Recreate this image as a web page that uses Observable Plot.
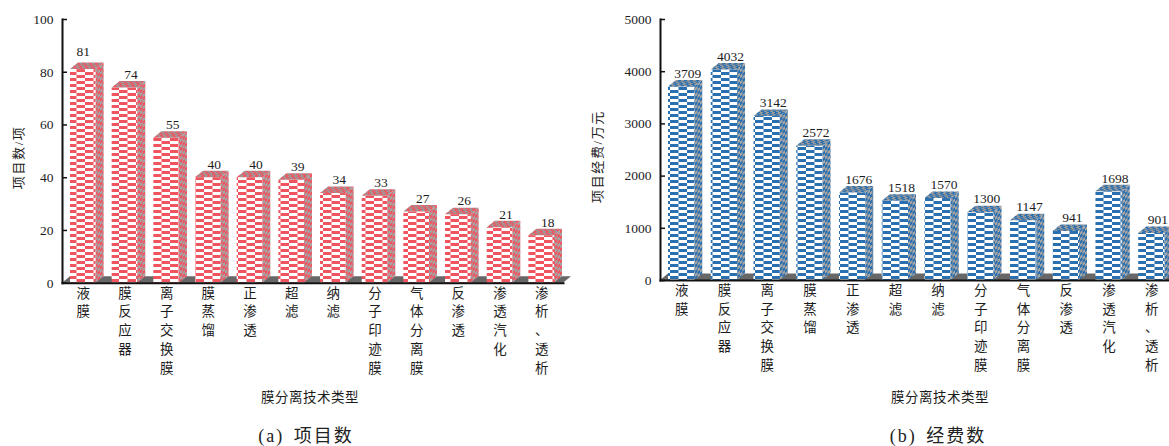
<!DOCTYPE html>
<html>
<head>
<meta charset="utf-8">
<script src="https://cdn.jsdelivr.net/npm/d3@7"></script>
<script src="https://cdn.jsdelivr.net/npm/@observablehq/plot@0.6"></script>
<style>
html,body{margin:0;padding:0;background:#fff;width:1169px;height:446px;overflow:hidden}
.panel{position:absolute;top:0;height:420px}
.panel svg{display:block;overflow:hidden}
.cap{position:absolute;top:421px;height:25px;line-height:25px;text-align:center;color:#222;
  font:18px "Liberation Serif","Noto Sans CJK SC",serif;letter-spacing:2px;word-spacing:3px;white-space:pre}
</style>
</head>
<body>
<div class="panel" id="a" style="left:0;width:585px"></div>
<div class="panel" id="b" style="left:585px;width:584px"></div>
<div class="cap" style="left:153px;width:306px">(a) 项目数</div>
<div class="cap" style="left:785px;width:306px">(b) 经费数</div>
<script>
const categories = ["液膜","膜反应器","离子交换膜","膜蒸馏","正渗透","超滤","纳滤","分子印迹膜","气体分离膜","反渗透","渗透汽化","渗析、透析"];
const projectCounts = [81,74,55,40,40,39,34,33,27,26,21,18];
const fundingValues = [3709,4032,3142,2572,1676,1518,1570,1300,1147,941,1698,901];
const countTicks = [0,20,40,60,80,100];
const fundingTicks = [0,1000,2000,3000,4000,5000];

const FONT = '"Liberation Serif","Noto Sans CJK SC",serif';
const SVGNS = "http://www.w3.org/2000/svg";
const DX = 8, DY = 6.5;

function el(tag, attrs, parent){
  const n = document.createElementNS(SVGNS, tag);
  for (const k in attrs) n.setAttribute(k, attrs[k]);
  if (parent) parent.appendChild(n);
  return n;
}

function defsMark(key, color){
  return () => {
    const defs = el("defs", {});
    const front = el("pattern", {id:`front-${key}`, patternUnits:"userSpaceOnUse", width:17, height:6}, defs);
    el("rect", {width:17, height:6, fill:"#fff"}, front);
    el("rect", {x:0, y:0, width:17, height:3.2, fill:color, "fill-opacity":0}, front);
    el("rect", {x:0, y:0, width:8.5, height:3, fill:color}, front);
    el("rect", {x:8.5, y:3, width:8.5, height:3, fill:color}, front);
    const side = el("pattern", {id:`side-${key}`, patternUnits:"userSpaceOnUse", width:5, height:6, patternTransform:"skewY(-39)"}, defs);
    el("rect", {width:5, height:6, fill:"#a5a5a5"}, side);
    el("rect", {x:0, y:0, width:2.5, height:3, fill:color}, side);
    el("rect", {x:2.5, y:3, width:2.5, height:3, fill:color}, side);
    const top = el("pattern", {id:`top-${key}`, patternUnits:"userSpaceOnUse", width:6, height:3.4, patternTransform:"skewX(-50)"}, defs);
    el("rect", {width:6, height:3.4, fill:"#9a9a9a"}, top);
    el("rect", {x:0, y:0, width:3, height:1.7, fill:color}, top);
    el("rect", {x:3, y:1.7, width:3, height:1.7, fill:color}, top);
    return defs;
  };
}

// Dark floor behind the bars, one depth unit deep
function floorMark(floorEnd){
  return (index, scales, values, dim) => {
    const y0 = scales.y(0), x0 = dim.marginLeft;
    return el("polygon", {
      fill:"#676767",
      points:`${x0},${y0} ${floorEnd},${y0} ${floorEnd + DX},${y0 - DY} ${x0 + DX},${y0 - DY}`
    });
  };
}

// Side and top faces of each bar, positioned through the chart's scales
function facesMark(rows, key){
  return (index, scales) => {
    const g = el("g", {});
    const w = scales.x.bandwidth();
    for (const d of rows){
      const x1 = scales.x(d.category), x2 = x1 + w;
      const yT = scales.y(d.value), yB = scales.y(0);
      el("polygon", {fill:`url(#side-${key})`, points:`${x2},${yT} ${x2+DX},${yT-DY} ${x2+DX},${yB-DY} ${x2},${yB}`}, g);
      el("polygon", {fill:`url(#top-${key})`, points:`${x1},${yT} ${x2},${yT} ${x2+DX},${yT-DY} ${x1+DX},${yT-DY}`}, g);
    }
    return g;
  };
}

const spaced = (ls, tx = 0, ty = 0) => (i, s, v, d, c, next) => {
  const g = next(i, s, v, d, c);
  g.setAttribute("letter-spacing", ls);
  if (tx || ty) g.setAttribute("transform", `translate(${tx},${ty})`);
  return g;
};

function chart({key, color, values, ticks, label, width, marginLeft, marginRight, xRange, yRange, floorEnd, labelOffset, labelDy, titleDx}){
  const rows = categories.map((category,i) => ({category, value: values[i]}));
  return Plot.plot({
    width, height: 420,
    marginTop: yRange[1], marginBottom: 420 - yRange[0],
    marginLeft, marginRight,
    style: {fontFamily: FONT, fontSize: "13.5px", color: "#1c1c1c", background: "#fff"},
    x: {type:"band", domain: categories, range: xRange, paddingInner: 0.385, paddingOuter: 0, align: 0, round: false, label: null},
    y: {domain: [0, ticks[ticks.length-1]], range: yRange, label: null},
    marks: [
      defsMark(key, color),
      floorMark(floorEnd),
      Plot.barY(rows, {x:"category", y:"value", fill:`url(#front-${key})`}),
      facesMark(rows, key),
      Plot.text(rows, {x:"category", y:"value", text:d=>String(d.value), dy:-13.5, dx:6, fontSize:13.5,
        filter:(d,i)=>!(i===0 && key==="a")}),
      key==="a" ? Plot.text(rows.slice(0,1), {x:"category", y:"value", text:d=>String(d.value), dy:-18, fontSize:13.5}) : null,
      Plot.axisX({anchor:"bottom", tickSize:0, tickPadding:1, lineHeight:1.39, fontSize:13.5,
        tickFormat:d=>[...d].join("\n"), label:null}),
      Plot.axisY({anchor:"left", ticks, tickSize:-5, tickPadding:14, strokeWidth:1.5, stroke:"#111", fontSize:13.5, tickFormat:d=>String(d), label:null}),
      Plot.frame({anchor:"left", stroke:"#111", strokeWidth:2}),
      Plot.frame({anchor:"bottom", stroke:"#111", strokeWidth:2}),
      Plot.text([label], {frameAnchor:"left", rotate:-90, dx:-labelOffset, dy:labelDy, fontSize:13, lineAnchor:"middle", textAnchor:"middle",
        render: spaced(1.6)}),
      Plot.text(["膜分离技术类型"], {frameAnchor:"bottom", fontSize:13.5, lineAnchor:"middle", textAnchor:"middle",
        dx:titleDx, dy:397.5-yRange[0], render: spaced(0.5)})
    ]
  });
}

document.getElementById("a").appendChild(chart({
  key:"a", color:"#f0545f", values:projectCounts, ticks:countTicks, label:"项目数/项",
  width:585, marginLeft:62, marginRight:22, xRange:[70,554], yRange:[282.7,19], floorEnd:563, labelOffset:44, labelDy:6, titleDx:-3
}));
document.getElementById("b").appendChild(chart({
  key:"b", color:"#2a6fb0", values:fundingValues, ticks:fundingTicks, label:"项目经费/万元",
  width:584, marginLeft:75, marginRight:0, xRange:[83,579.5], yRange:[280,19], floorEnd:584, labelOffset:63, labelDy:6.5, titleDx:25
}));
</script>
</body>
</html>
